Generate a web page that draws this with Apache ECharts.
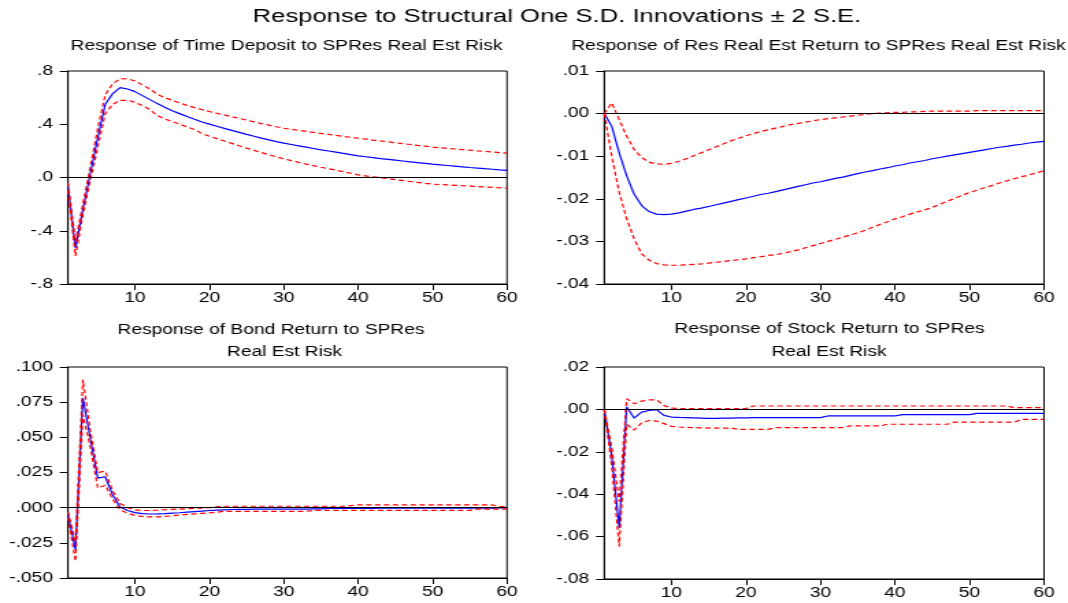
<!DOCTYPE html>
<html>
<head>
<meta charset="utf-8">
<script src="https://cdn.jsdelivr.net/npm/echarts@6/dist/echarts.min.js"></script>
<style>
  html, body { margin: 0; padding: 0; background: #fff; overflow: hidden; }
  #wrap { width: 1068px; height: 603px; overflow: hidden; position: relative; }
  /* EViews-style output is drawn narrow and widened horizontally */
  #chart { position: absolute; left: 0; top: 0; width: 780px; height: 603px;
           transform: scaleX(1.369231); transform-origin: 0 0; }
</style>
</head>
<body>
<div id="wrap"><div id="chart"></div></div>
<script>
// Horizon (periods after the shock)
const steps = Array.from({ length: 60 }, (_, i) => i + 1);
const xTickLabels = [10, 20, 30, 40, 50, 60];

// Response of Time Deposit
const timeDepositResp = [
  -0.07, -0.53, -0.24, 0.03, 0.30, 0.55, 0.63, 0.675, 0.665, 0.645,
  0.615, 0.585, 0.555, 0.527, 0.502, 0.48, 0.458, 0.437, 0.417, 0.401,
  0.385, 0.369, 0.354, 0.339, 0.324, 0.31, 0.296, 0.283, 0.27, 0.258,
  0.248, 0.238, 0.228, 0.218, 0.208, 0.199, 0.19, 0.181, 0.172, 0.163,
  0.156, 0.149, 0.142, 0.136, 0.13, 0.124, 0.118, 0.112, 0.106, 0.10,
  0.095, 0.09, 0.085, 0.08, 0.075, 0.071, 0.066, 0.062, 0.057, 0.053
];
const timeDepositUpper = [
  -0.04, -0.48, -0.20, 0.08, 0.37, 0.62, 0.705, 0.74, 0.742, 0.725,
  0.695, 0.665, 0.625, 0.60, 0.58, 0.56, 0.542, 0.525, 0.51, 0.496,
  0.483, 0.47, 0.457, 0.444, 0.431, 0.418, 0.405, 0.393, 0.381, 0.37,
  0.362, 0.354, 0.346, 0.339, 0.331, 0.324, 0.316, 0.309, 0.302, 0.295,
  0.288, 0.281, 0.275, 0.268, 0.261, 0.255, 0.248, 0.241, 0.235, 0.228,
  0.223, 0.219, 0.214, 0.21, 0.205, 0.20, 0.196, 0.192, 0.187, 0.183
];
const timeDepositLower = [
  -0.10, -0.59, -0.28, -0.02, 0.23, 0.48, 0.55, 0.58, 0.58, 0.565,
  0.54, 0.51, 0.465, 0.44, 0.42, 0.40, 0.38, 0.36, 0.33, 0.31,
  0.292, 0.274, 0.256, 0.238, 0.221, 0.204, 0.187, 0.171, 0.155, 0.14,
  0.127, 0.114, 0.101, 0.089, 0.077, 0.066, 0.055, 0.044, 0.032, 0.02,
  0.012, 0.005, -0.002, -0.009, -0.016, -0.023, -0.03, -0.037, -0.044, -0.05,
  -0.053, -0.056, -0.059, -0.062, -0.065, -0.068, -0.071, -0.074, -0.077, -0.08
];
const timeDepositTicks = [-0.8, -0.4, 0, 0.4, 0.8];

// Response of Res Real Est Return
const resReturnResp = [
  0, -0.003, -0.0092, -0.0146, -0.0189, -0.0216, -0.023, -0.0236, -0.0237, -0.0236,
  -0.0233, -0.0229, -0.0225, -0.0222, -0.0218, -0.0214, -0.021, -0.0206, -0.0202, -0.0198,
  -0.0194, -0.019, -0.0187, -0.0183, -0.0179, -0.0175, -0.0171, -0.0167, -0.0163, -0.016,
  -0.0156, -0.0152, -0.0149, -0.0145, -0.0141, -0.0137, -0.0134, -0.013, -0.0127, -0.0123,
  -0.012, -0.0116, -0.0113, -0.011, -0.0106, -0.0103, -0.01, -0.0097, -0.0094, -0.0091,
  -0.0088, -0.0085, -0.0082, -0.0079, -0.0077, -0.0074, -0.0072, -0.0069, -0.0067, -0.0065
];
const resReturnUpper = [
  0, 0.0025, -0.0014, -0.0053, -0.0084, -0.0103, -0.0114, -0.0118, -0.0119, -0.0117,
  -0.0112, -0.0106, -0.0099, -0.0092, -0.0085, -0.0078, -0.0071, -0.0064, -0.0058, -0.0052,
  -0.0047, -0.0042, -0.0038, -0.0034, -0.003, -0.0026, -0.0023, -0.002, -0.0017, -0.0014,
  -0.0012, -0.001, -0.0008, -0.0006, -0.0004, -0.0002, 0, 0.0001, 0.0002, 0.0003,
  0.0003, 0.0004, 0.0004, 0.0005, 0.0006, 0.0006, 0.0006, 0.0006, 0.0006, 0.0006,
  0.0007, 0.0007, 0.0007, 0.0007, 0.0007, 0.0007, 0.0007, 0.0007, 0.0007, 0.0007
];
const resReturnLower = [
  0, -0.010, -0.0185, -0.0247, -0.0294, -0.0329, -0.0344, -0.0352, -0.0355, -0.0356,
  -0.0356, -0.0355, -0.0354, -0.0353, -0.0351, -0.0349, -0.0347, -0.0345, -0.0343, -0.0341,
  -0.0338, -0.0336, -0.0333, -0.0331, -0.0328, -0.0324, -0.032, -0.0315, -0.031, -0.0305,
  -0.03, -0.0295, -0.029, -0.0285, -0.028, -0.0274, -0.0267, -0.026, -0.0254, -0.0247,
  -0.0242, -0.0236, -0.0231, -0.0226, -0.022, -0.0213, -0.0206, -0.0199, -0.0192, -0.0185,
  -0.018, -0.0174, -0.0169, -0.0163, -0.0158, -0.0153, -0.0148, -0.0144, -0.0139, -0.0134
];
const resReturnTicks = [-0.04, -0.03, -0.02, -0.01, 0, 0.01];

// Response of Bond Return
const bondReturnResp = [
  -0.005, -0.030, 0.078, 0.049, 0.021, 0.022, 0.009, 0.0005, -0.002, -0.0035,
  -0.0042, -0.0045, -0.0044, -0.0042, -0.0039, -0.0036, -0.0032, -0.0028, -0.0024, -0.002,
  -0.0017, -0.0015, -0.0013, -0.0012, -0.0012, -0.0011, -0.0011, -0.001, -0.001, -0.001,
  -0.001, -0.001, -0.001, -0.0009, -0.0008, -0.0006, -0.0005, -0.0005, -0.0005, -0.0005,
  -0.0005, -0.0005, -0.0004, -0.0004, -0.0004, -0.0004, -0.0004, -0.0004, -0.0004, -0.0003,
  -0.0003, -0.0003, -0.0003, -0.0003, -0.0003, -0.0003, -0.0003, -0.0003, -0.0002, -0.0002
];
const bondReturnUpper = [
  -0.003, -0.024, 0.091, 0.055, 0.025, 0.026, 0.012, 0.003, 0.0, -0.0015,
  -0.002, -0.002, -0.0018, -0.0015, -0.0012, -0.001, -0.0008, -0.0005, -0.0003, 0,
  0.0005, 0.001, 0.001, 0.001, 0.001, 0.001, 0.001, 0.001, 0.001, 0.001,
  0.001, 0.001, 0.001, 0.001, 0.001, 0.001, 0.001, 0.001, 0.0015, 0.002,
  0.002, 0.002, 0.002, 0.002, 0.002, 0.002, 0.002, 0.002, 0.002, 0.002,
  0.002, 0.002, 0.002, 0.002, 0.002, 0.002, 0.002, 0.002, 0.0008, 0.0008
];
const bondReturnLower = [
  -0.007, -0.038, 0.066, 0.043, 0.014, 0.016, 0.006, -0.0015, -0.004, -0.0055,
  -0.0063, -0.0066, -0.0065, -0.0062, -0.0058, -0.0053, -0.0048, -0.0044, -0.004, -0.0037,
  -0.0032, -0.0026, -0.0026, -0.0026, -0.0026, -0.0026, -0.0026, -0.0026, -0.0026, -0.0026,
  -0.0026, -0.0026, -0.0026, -0.0019, -0.0019, -0.0019, -0.0019, -0.0019, -0.0019, -0.0019,
  -0.0019, -0.0019, -0.0019, -0.0019, -0.0019, -0.0019, -0.0019, -0.0019, -0.0019, -0.0019,
  -0.0019, -0.0019, -0.0019, -0.0019, -0.0019, -0.001, -0.001, -0.001, -0.001, -0.001
];
const bondReturnTicks = [-0.05, -0.025, 0, 0.025, 0.05, 0.075, 0.1];

// Response of Stock Return
const stockReturnResp = [
  0, -0.022, -0.056, 0.0011, -0.0041, -0.0013, -0.0005, -0.0001, -0.0028, -0.0036,
  -0.0038, -0.0039, -0.004, -0.0041, -0.0042, -0.0042, -0.0041, -0.0041, -0.004, -0.004,
  -0.0039, -0.0039, -0.0039, -0.0039, -0.0039, -0.0039, -0.0039, -0.0039, -0.0039, -0.0039,
  -0.0031, -0.0031, -0.0031, -0.0031, -0.0031, -0.0031, -0.0031, -0.0031, -0.0031, -0.0031,
  -0.0025, -0.0025, -0.0025, -0.0025, -0.0025, -0.0025, -0.0025, -0.0025, -0.0025, -0.0025,
  -0.0019, -0.0019, -0.0019, -0.0019, -0.0019, -0.0019, -0.0019, -0.0019, -0.0019, -0.0019
];
const stockReturnUpper = [
  0, -0.018, -0.0435, 0.005, 0.0027, 0.0039, 0.0045, 0.0045, 0.0019, 0.0006,
  0.0004, 0.0004, 0.0004, 0.0004, 0.0004, 0.0004, 0.0004, 0.0004, 0.0004, 0.0004,
  0.0016, 0.0016, 0.0016, 0.0016, 0.0016, 0.0016, 0.0016, 0.0016, 0.0016, 0.0016,
  0.0016, 0.0016, 0.0016, 0.0016, 0.0016, 0.0016, 0.0016, 0.0016, 0.0016, 0.0016,
  0.0016, 0.0016, 0.0016, 0.0016, 0.0016, 0.0016, 0.0016, 0.0016, 0.0016, 0.0016,
  0.0016, 0.0016, 0.0016, 0.0016, 0.0016, 0.0008, 0.0008, 0.0008, 0.0008, 0.0008
];
const stockReturnLower = [
  0, -0.027, -0.0646, -0.007, -0.0098, -0.0064, -0.0052, -0.0055, -0.0067, -0.008,
  -0.0083, -0.0085, -0.0086, -0.0087, -0.0088, -0.0088, -0.0088, -0.0088, -0.0094, -0.0094,
  -0.0094, -0.0094, -0.0094, -0.0086, -0.0086, -0.0086, -0.0086, -0.0086, -0.0086, -0.0086,
  -0.0086, -0.0086, -0.0086, -0.0078, -0.0078, -0.0078, -0.0078, -0.0078, -0.007, -0.007,
  -0.007, -0.007, -0.007, -0.007, -0.007, -0.007, -0.007, -0.006, -0.006, -0.006,
  -0.006, -0.006, -0.006, -0.006, -0.006, -0.006, -0.0047, -0.0047, -0.0047, -0.0047
];
const stockReturnTicks = [-0.08, -0.06, -0.04, -0.02, 0, 0.02];

const mainTitle = 'Response to Structural One S.D. Innovations \u00b1 2 S.E.';

const FONT = '"Liberation Sans", Arial, sans-serif';
const SX = 1.369231; // horizontal widening applied to the canvas

// Panel layout (x in unscaled canvas units)
const panels = [
  { lines: ['Response of Time Deposit to SPRes Real Est Risk'], titleX: [286.5], titleY: [46],
    resp: timeDepositResp, upper: timeDepositUpper, lower: timeDepositLower, ticks: timeDepositTicks, digits: 1,
    grid: { left: 68 / SX, top: 71, width: 439 / SX, height: 213 } },
  { lines: ['Response of Res Real Est Return to SPRes Real Est Risk'], titleX: [818.5], titleY: [46],
    resp: resReturnResp, upper: resReturnUpper, lower: resReturnLower, ticks: resReturnTicks, digits: 2,
    grid: { left: 604.3 / SX, top: 71, width: 439.7 / SX, height: 213 } },
  { lines: ['Response of Bond Return to SPRes', 'Real Est Risk'], titleX: [271, 284.5], titleY: [330, 352],
    resp: bondReturnResp, upper: bondReturnUpper, lower: bondReturnLower, ticks: bondReturnTicks, digits: 3,
    grid: { left: 68 / SX, top: 367, width: 439 / SX, height: 211 } },
  { lines: ['Response of Stock Return to SPRes', 'Real Est Risk'], titleX: [829.5, 829], titleY: [329, 352],
    resp: stockReturnResp, upper: stockReturnUpper, lower: stockReturnLower, ticks: stockReturnTicks, digits: 2,
    grid: { left: 604.3 / SX, top: 367, width: 439.7 / SX, height: 212 } }
];

function tickFormatter(digits) {
  return function (v) {
    if (Math.abs(v) < 1e-9) v = 0;
    return v.toFixed(digits).replace(/^(-?)0\./, '$1.');
  };
}
const onTen = (idx, val) => xTickLabels.indexOf(Number(val)) >= 0;

function textEl(text, x, y, size) {
  return {
    type: 'text', x: x, y: y, silent: true,
    style: { text: text, font: size + 'px ' + FONT, fill: '#000',
             align: 'center', verticalAlign: 'middle',
             textAlign: 'center', textVerticalAlign: 'middle' }
  };
}

const grids = [], xAxes = [], yAxes = [], series = [];
const graphics = [textEl(mainTitle, 557 / SX, 17, 18.7)];

panels.forEach((p, i) => {
  grids.push(Object.assign({ show: true, borderColor: '#000', borderWidth: 1, containLabel: false }, p.grid));
  p.lines.forEach((t, k) => graphics.push(textEl(t, p.titleX[k] / SX, p.titleY[k], 14)));

  xAxes.push({
    type: 'category', gridIndex: i, data: steps, boundaryGap: false,
    axisLine: { onZero: false, lineStyle: { color: '#000', width: 1 } },
    axisTick: { interval: onTen, length: 6, lineStyle: { color: '#000', width: 1 } },
    axisLabel: { interval: onTen, margin: 7, color: '#000', fontSize: 14, fontFamily: FONT },
    splitLine: { show: false }
  });
  const t = p.ticks;
  yAxes.push({
    type: 'value', gridIndex: i,
    min: t[0], max: t[t.length - 1], interval: t[1] - t[0],
    axisLine: { show: true, onZero: false, lineStyle: { color: '#000', width: 1 } },
    axisTick: { show: true, length: 6, lineStyle: { color: '#000', width: 1 } },
    axisLabel: { margin: 11, color: '#000', fontSize: 14, fontFamily: FONT, formatter: tickFormatter(p.digits) },
    splitLine: { show: false }
  });

  series.push({
    type: 'line', xAxisIndex: i, yAxisIndex: i, data: p.resp,
    symbol: 'none', smooth: false, z: 3,
    lineStyle: { color: '#0000ff', width: 1.2 },
    markLine: {
      silent: true, symbol: ['none', 'none'], label: { show: false },
      lineStyle: { color: '#000', width: 1, type: 'solid' },
      data: [{ yAxis: 0 }]
    }
  });
  [p.upper, p.lower].forEach(band => series.push({
    type: 'line', xAxisIndex: i, yAxisIndex: i, data: band,
    symbol: 'none', smooth: false, z: 4,
    lineStyle: { color: '#ff0000', width: 1.2, type: [4, 2.5] }
  }));
});

const chart = echarts.init(document.getElementById('chart'), null, { renderer: 'canvas' });
chart.setOption({
  animation: false,
  backgroundColor: '#fff',
  grid: grids,
  xAxis: xAxes,
  yAxis: yAxes,
  series: series,
  graphic: graphics
});
</script>
</body>
</html>
